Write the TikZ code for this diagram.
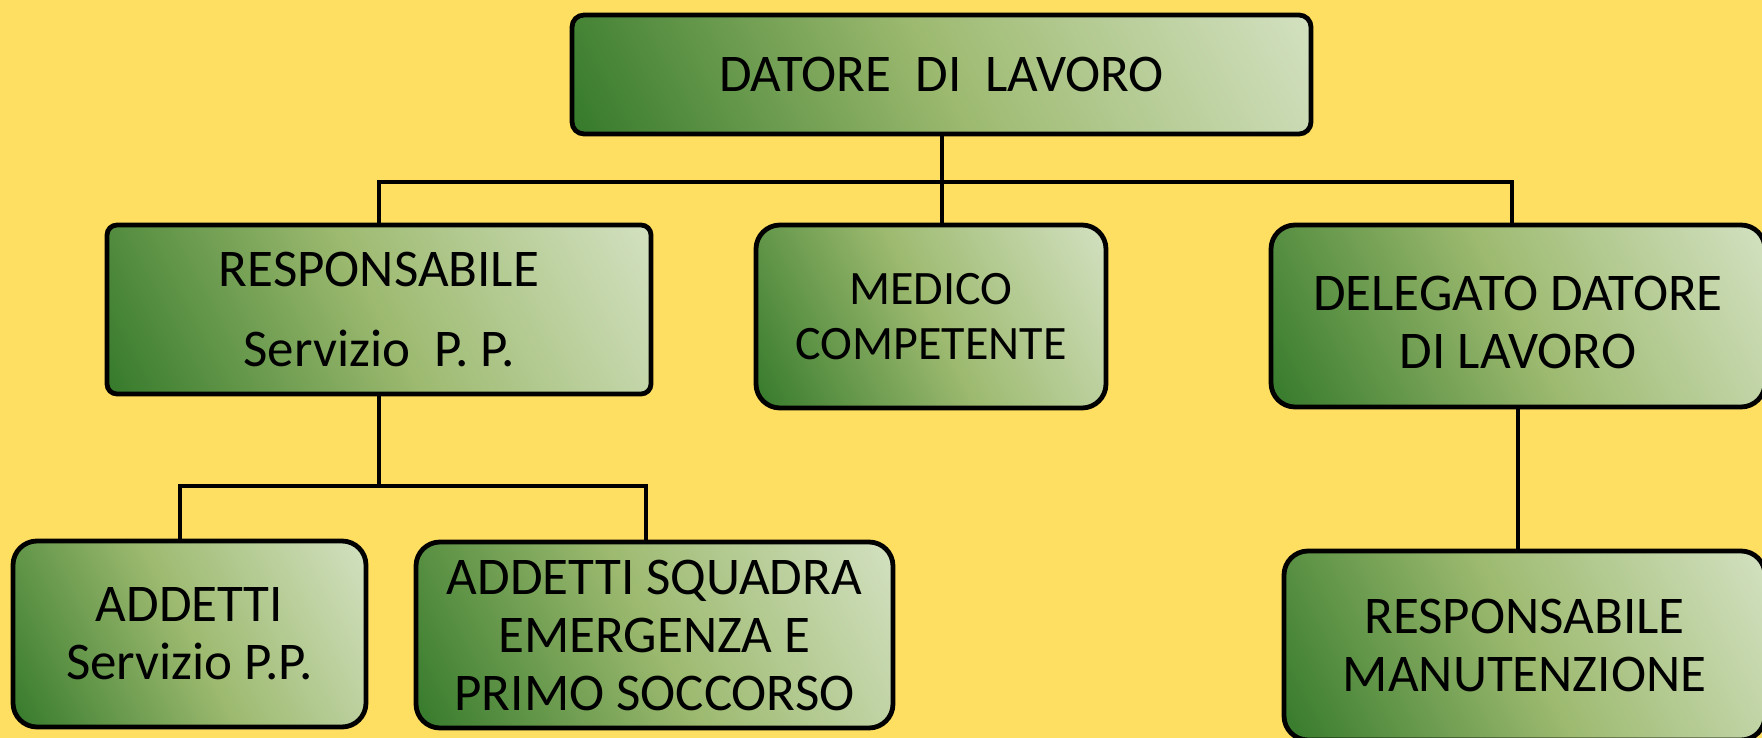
\documentclass[tikz,border=0pt]{standalone}
\usepackage{fontspec}
\setmainfont{Carlito}
\usetikzlibrary{positioning}

\definecolor{bgyellow}{RGB}{255,223,98}
\definecolor{dkgreen}{RGB}{28,106,26}
\definecolor{midgreen}{RGB}{157,186,112}
\definecolor{ltgreen}{RGB}{224,234,212}
\pgfdeclarehorizontalshading{boxgreen}{100bp}{color(0bp)=(dkgreen); color(8bp)=(dkgreen); color(50bp)=(midgreen); color(92bp)=(ltgreen); color(100bp)=(ltgreen)}

\tikzset{
  box/.style={draw, line width=2.4pt, shade, shading=boxgreen, shading angle=28,
    rounded corners=12pt, align=center, inner sep=0pt,
    font=\fontsize{26.5}{29}\selectfont},
  link/.style={line width=2pt}
}

\begin{document}
\begin{tikzpicture}[x=0.5pt,y=-0.5pt]

\useasboundingbox (0,0) rectangle (1762,738);
\clip (0,0) rectangle (1762,738);
\fill[bgyellow] (0,0) rectangle (1762,738);

\node[box, rounded corners=6pt, minimum width=369.5pt, minimum height=59.5pt] (datore) at (941.5,74.5) {DATORE\ \ DI\ \ LAVORO};

\node[box, rounded corners=5pt, minimum width=272pt, minimum height=84.5pt] (resp) at (379,309.5) {RESPONSABILE\\[11pt]Servizio\ \ P.\ P.};
\node[box, minimum width=175pt, minimum height=91.5pt, font=\fontsize{24}{27.5}\selectfont] (medico) at (931,316.5) {MEDICO\\COMPETENTE};
\node[box, minimum width=247pt, minimum height=91pt] (deleg) at (1518,316) {\rule{0pt}{24pt}DELEGATO DATORE\\DI LAVORO};

\node[box, minimum width=176.5pt, minimum height=93pt] (addetti) at (189.5,634) {ADDETTI\\Servizio P.P.};
\node[box, minimum width=238.5pt, minimum height=93pt] (squadra) at (654.5,635) {ADDETTI SQUADRA\\EMERGENZA E\\PRIMO SOCCORSO};
\node[box, minimum width=240.5pt, minimum height=94.5pt] (manut) at (1524.5,645.5) {RESPONSABILE\\MANUTENZIONE};

% connectors
\coordinate (top bar) at (941.5,182);
\draw[link] (datore.south) -- (datore.south |- medico.north);
\draw[link] (resp.north) |- (top bar) -| ([xshift=-3pt]deleg.north);

\draw[link] (resp.south) -- ++(0,90) coordinate (low bar);
\draw[link] ([xshift=-4.75pt]addetti.north) |- (low bar) -| ([xshift=-4.25pt]squadra.north);

\draw[link] (deleg.south) -- (deleg.south |- manut.north);

\end{tikzpicture}
\end{document}
